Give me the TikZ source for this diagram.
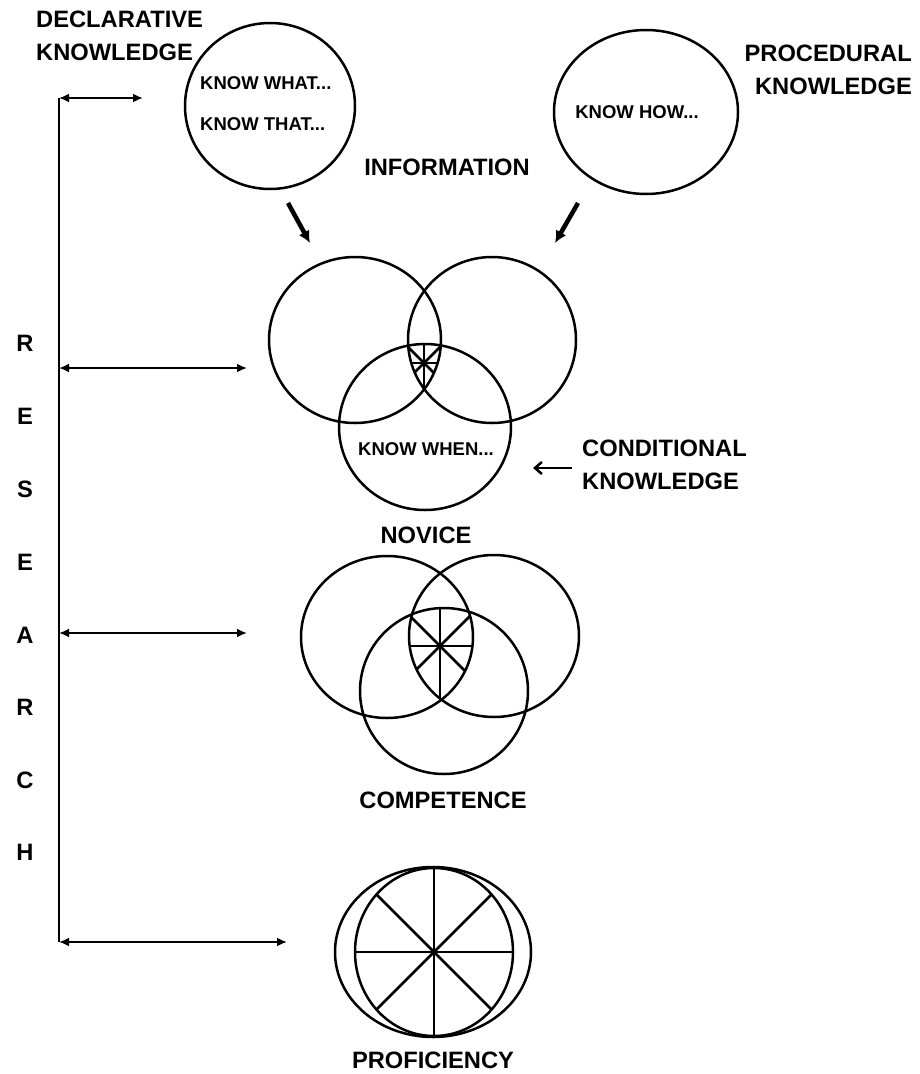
\documentclass[tikz,border=0pt]{standalone}
\usepackage{fontspec}
\setmainfont{Liberation Sans}
\usetikzlibrary{arrows.meta}
\tikzset{
  ring/.style= {line width=2.5pt},
  spoke/.style= {line width=2.5pt},
  tag/.style= {font=\bfseries\fontsize{23.7}{33}\selectfont, inner sep=0},
  know/.style= {font=\bfseries\fontsize{18.5}{22}\selectfont, inner sep=0},
  link/.style= {line width=2.6pt, {Latex[length=10pt,width=9pt]}-{Latex[length=10pt,width=9pt]}},
  feed/.style= {line width=4.5pt, -{Latex[length=12pt,width=12pt]}},
  cond/.style= {line width=2.5pt, -{Straight Barb[length=7pt,width=12pt]}},
}

\begin{document}
\begin{tikzpicture}[x=1pt, y=-1pt]
  \useasboundingbox (0,0) rectangle (919,1074);

  % top: declarative and procedural
  \coordinate (dc) at (270,106) ;
  \coordinate (pc) at (646,112) ;
  \draw [ring] (dc) ellipse [x radius=85, y radius=83] ;
  \draw [ring] (pc) ellipse [x radius=92, y radius=82] ;
  \node [tag, align=left, anchor=west] (decl) at (36,36) {DECLARATIVE\\KNOWLEDGE} ;
  \node [tag, align=right, anchor=east] (proc) at (912,70) {PROCEDURAL\\KNOWLEDGE} ;
  \node [know, anchor=west] (what) at (200,83) {KNOW WHAT...} ;
  \node [know, anchor=west] (that) at (200,124) {KNOW THAT...} ;
  \node [know] (how) at (637,112) {KNOW HOW...} ;
  \node [tag] (info) at (447,167) {INFORMATION} ;

  \coordinate (d0) at (288,203) ;
  \coordinate (d1) at (310,243) ;
  \coordinate (p0) at (578,203) ;
  \coordinate (p1) at (555,243) ;
  \draw [feed] (d0) -- (d1) ;
  \draw [feed] (p0) -- (p1) ;

  % novice
  \coordinate (n1) at (355,340) ;
  \coordinate (n2) at (492,340) ;
  \coordinate (n3) at (425,427) ;
  \coordinate (ns) at (424,363) ;
  \draw [ring] (n1) ellipse [x radius=86, y radius=83] ;
  \draw [ring] (n2) ellipse [x radius=84, y radius=83] ;
  \draw [ring] (n3) ellipse [x radius=86, y radius=83] ;
  \begin{scope}
    \clip (n1) ellipse [x radius=86, y radius=83] ;
    \clip (n2) ellipse [x radius=84, y radius=83] ;
    \clip (n3) ellipse [x radius=86, y radius=83] ;
    \foreach \a in {0,45,...,315}
      \draw [spoke] (ns) -- ++(\a:80) ;
  \end{scope}
  \node [know] (when) at (426,449) {KNOW WHEN...} ;
  \node [tag] (novice) at (426,535) {NOVICE} ;
  \node [tag, align=left, anchor=west] (condk) at (582,465) {CONDITIONAL\\KNOWLEDGE} ;
  \coordinate (c0) at (572,468) ;
  \coordinate (c1) at (533,468) ;
  \draw [cond] (c0) -- (c1) ;

  % competence
  \coordinate (m1) at (387,637) ;
  \coordinate (m2) at (494,636) ;
  \coordinate (m3) at (444,691) ;
  \coordinate (ms) at (440,646) ;
  \draw [ring] (m1) ellipse [x radius=86, y radius=81] ;
  \draw [ring] (m2) ellipse [x radius=85, y radius=81] ;
  \draw [ring] (m3) ellipse [x radius=84, y radius=83] ;
  \begin{scope}
    \clip (m1) ellipse [x radius=86, y radius=81] ;
    \clip (m2) ellipse [x radius=85, y radius=81] ;
    \clip (m3) ellipse [x radius=84, y radius=83] ;
    \foreach \a in {0,45,...,315}
      \draw [spoke] (ms) -- ++(\a:90) ;
  \end{scope}
  \node [tag] (comp) at (443,800) {COMPETENCE} ;

  % proficiency
  \coordinate (f1) at (433,952) ;
  \coordinate (f2) at (434,952) ;
  \draw [ring] (f1) ellipse [x radius=98, y radius=85] ;
  \draw [ring] (f2) ellipse [x radius=79, y radius=84] ;
  \begin{scope}
    \clip (f2) ellipse [x radius=79, y radius=84] ;
    \foreach \a in {0,45,...,315}
      \draw [spoke] (f2) -- ++(\a:100) ;
  \end{scope}
  \node [tag] (prof) at (433,1060) {PROFICIENCY} ;

  % research bar
  \coordinate (r0) at (59,98) ;
  \coordinate (r1) at (59,368) ;
  \coordinate (r2) at (59,633) ;
  \coordinate (r3) at (59,942) ;
  \coordinate (e0) at (143,98) ;
  \coordinate (e1) at (247,368) ;
  \coordinate (e2) at (247,633) ;
  \coordinate (e3) at (287,942) ;
  \draw [ring] (r0) -- (r3) ;
  \draw [link] (r0) -- (e0) ;
  \draw [link] (r1) -- (e1) ;
  \draw [link] (r2) -- (e2) ;
  \draw [link] (r3) -- (e3) ;
  \foreach \l/\y [count=\i] in {R/343,E/416,S/489,E/562,A/635,R/707,C/780,H/852}
    \node [tag] (res\i) at (25,\y) {\l} ;
\end{tikzpicture}
\end{document}
